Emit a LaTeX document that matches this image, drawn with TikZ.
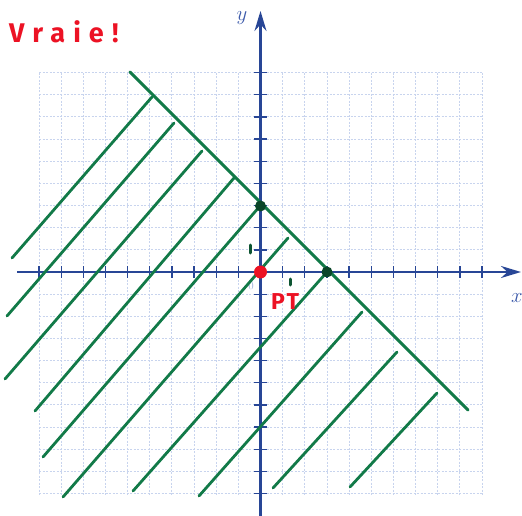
\documentclass[tikz,border=0pt]{standalone}
\usepackage{fontspec}
\usetikzlibrary{arrows.meta}
\newfontfamily\handfont[LetterSpace=30]{Fira Sans}
\newfontfamily\handfontpt[LetterSpace=10]{Fira Sans}
\definecolor{gridblue}{RGB}{200,212,238}
\definecolor{axisblue}{RGB}{40,70,150}
\definecolor{labelblue}{RGB}{60,90,170}
\definecolor{faintblue}{RGB}{150,170,215}
\definecolor{hatchgreen}{RGB}{18,122,72}
\definecolor{dotgreen}{RGB}{10,70,40}
\definecolor{penred}{RGB}{236,18,36}
\tikzset{
  gridline/.style={draw=gridblue, line width=0.9pt, dash pattern=on 2pt off 1.5pt},
  axisline/.style={draw=axisblue, line width=2.4pt, -{Stealth[length=20pt,width=12pt]}},
  tickmark/.style={draw=axisblue, line width=1.3pt},
  hatchline/.style={draw=hatchgreen, line width=2.8pt, line cap=round},
  borderline/.style={draw=hatchgreen, line width=3pt, line cap=round},
  greendot/.style={circle, fill=dotgreen, inner sep=0pt, minimum size=11pt},
  reddot/.style={circle, fill=penred, inner sep=0pt, minimum size=13pt},
  axislabel/.style={text=labelblue, font=\fontsize{22}{22}\selectfont, inner sep=0pt},
  unitmark/.style={draw=hatchgreen!70!black, line width=3pt, line cap=round},
}
\begin{document}
\begin{tikzpicture}[x=1pt, y=-1pt]
\useasboundingbox (0,0) rectangle (522,516);
% grid
\foreach \i in {-10,...,10} {
  \draw[gridline] ({260.5+22.15*\i},73) -- ({260.5+22.15*\i},495);
}
\foreach \j in {-9,...,10} {
  \draw[gridline] (39,{272+22.15*\j}) -- (483,{272+22.15*\j});
}
% axes
\coordinate (xs) at (17,272);
\coordinate (xe) at (521,272);
\coordinate (ys) at (260.5,516);
\coordinate (ye) at (260.5,11);
\draw[axisline] (xs) -- (xe);
\draw[axisline] (ys) -- (ye);
\foreach \i in {-10,...,-1,1,2,...,10} {
  \draw[tickmark] ({260.5+22.15*\i},266) -- ({260.5+22.15*\i},278);
}
\foreach \j in {-9,...,-1,1,2,...,10} {
  \draw[tickmark] (254,{272+22.15*\j}) -- (267,{272+22.15*\j});
}
\node[axislabel] (ylab) at (242,18) {$y$};
\node[axislabel] (xlab) at (517,298) {$x$};
\node[text=faintblue, font=\fontsize{11}{11}\selectfont, inner sep=0pt] (olab) at (251,286) {0};
% boundary line
\coordinate (b1) at (130,72);
\coordinate (b2) at (468,410);
\draw[borderline] (b1) -- (b2);
% hatch lines
\coordinate (a1) at (12,258);  \coordinate (a2) at (152,97);
\coordinate (c1) at (7,316);   \coordinate (c2) at (174,123);
\coordinate (d1) at (5,379);   \coordinate (d2) at (202,151);
\coordinate (e1) at (35,411);  \coordinate (e2) at (234,178);
\coordinate (f1) at (43,457);  \coordinate (f2) at (260,206);
\coordinate (g1) at (63,497);  \coordinate (g2) at (288,238);
\coordinate (h1) at (133,491); \coordinate (h2) at (327,272);
\coordinate (k1) at (199,496); \coordinate (k2) at (362,312);
\coordinate (m1) at (273,488); \coordinate (m2) at (397,352);
\coordinate (n1) at (350,487); \coordinate (n2) at (437,393);
\foreach \p in {a,c,d,e,f,g,h,k,m,n} {
  \draw[hatchline] (\p1) -- (\p2);
}
% unit marks
\coordinate (u1) at (250,245); \coordinate (u2) at (250,253);
\coordinate (v1) at (290,279); \coordinate (v2) at (290,285);
\draw[unitmark] (u1) -- (u2);
\draw[unitmark] (v1) -- (v2);
% dots
\node[greendot] (yint) at (260.5,206) {};
\node[greendot] (xint) at (327,272) {};
\node[reddot] (orig) at (260.5,272) {};
% red texts
\node[text=penred, font=\handfont\bfseries\fontsize{27}{27}\selectfont, anchor=base west, inner sep=0pt] (vraie) at (9,43) {Vraie!};
\node[text=penred, font=\handfontpt\bfseries\fontsize{23}{23}\selectfont, anchor=base west, inner sep=0pt] (pt) at (271,309) {PT};
\end{tikzpicture}
\end{document}
